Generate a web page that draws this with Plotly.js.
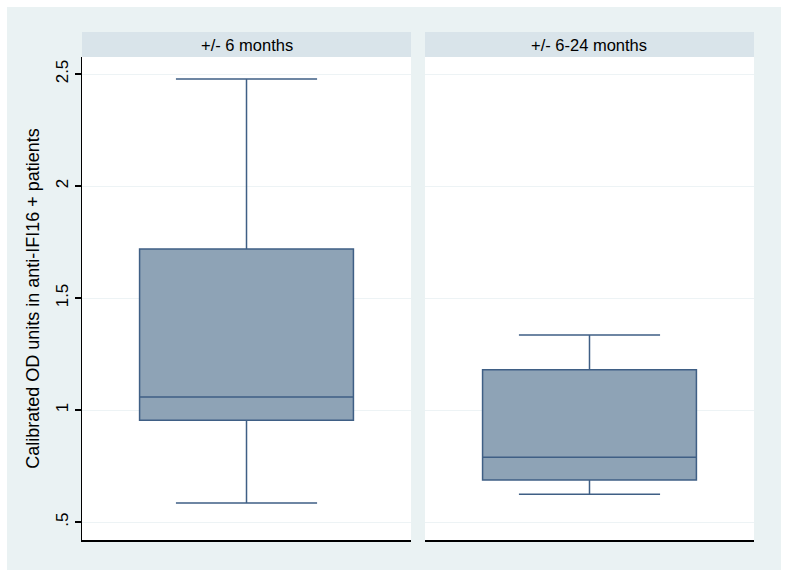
<!DOCTYPE html>
<html>
<head>
<meta charset="utf-8">
<script src="https://cdn.plot.ly/plotly-3.0.1.min.js"></script>
<style>
  html, body { margin: 0; padding: 0; background: #ffffff; }
  #chart { position: absolute; left: 7px; top: 7px; width: 774px; height: 563px; }
</style>
</head>
<body>
<div id="chart"></div>
<script>
// panel labels and box statistics
const panels = ['+/- 6 months', '+/- 6-24 months'];
const lowerFence = [0.585, 0.624];
const q1 = [0.955, 0.688];
const median = [1.058, 0.789];
const q3 = [1.719, 1.180];
const upperFence = [2.478, 1.335];

const yTickVals = [0.5, 1, 1.5, 2, 2.5];
const yTickText = ['.5', '1', '1.5', '2', '2.5'];

const boxFill = '#8ea3b6';
const boxLine = '#3f5f85';
const bg = '#eaf2f3';
const strip = '#d9e4ea';

const traces = panels.map((p, i) => ({
  type: 'box',
  x: [p],
  q1: [q1[i]],
  median: [median[i]],
  q3: [q3[i]],
  lowerfence: [lowerFence[i]],
  upperfence: [upperFence[i]],
  width: 0.65,
  whiskerwidth: 0.66,
  fillcolor: boxFill,
  line: { color: boxLine, width: 1.5 },
  xaxis: i === 0 ? 'x' : 'x2',
  yaxis: 'y',
  hoverinfo: 'skip',
  showlegend: false
}));

const dom1 = [0, 0.4896];
const dom2 = [0.5104, 1];

function xAxis(domain) {
  return {
    domain: domain,
    anchor: 'y',
    range: [-0.5, 0.5],
    showticklabels: false,
    ticks: '',
    showgrid: false,
    zeroline: false,
    showline: true,
    linecolor: '#000000',
    linewidth: 1.5,
    fixedrange: true
  };
}

const stripTop = 1 + 25 / 483;

const layout = {
  width: 774,
  height: 563,
  margin: { l: 75, r: 27, t: 50, b: 30 },
  paper_bgcolor: bg,
  plot_bgcolor: '#ffffff',
  font: { family: 'Liberation Sans, Arial, sans-serif', color: '#000000', size: 15 },
  xaxis: xAxis(dom1),
  xaxis2: xAxis(dom2),
  yaxis: {
    anchor: 'x',
    range: [0.42, 2.576],
    tickvals: yTickVals,
    ticktext: yTickText,
    tickangle: -90,
    ticks: 'outside',
    ticklen: 6,
    tickwidth: 1.2,
    tickcolor: '#000000',
    tickfont: { size: 17 },
    showline: true,
    linecolor: '#000000',
    linewidth: 1.5,
    showgrid: true,
    gridcolor: '#edf3f5',
    gridwidth: 1,
    zeroline: false,
    fixedrange: true,
    title: { text: 'Calibrated OD units in anti-IFI16 + patients', font: { size: 18 }, standoff: 8 }
  },
  shapes: [dom1, dom2].map(d => ({
    type: 'rect', xref: 'paper', yref: 'paper',
    x0: d[0], x1: d[1], y0: 1, y1: stripTop,
    fillcolor: strip, line: { width: 0 }
  })),
  annotations: panels.map((p, i) => {
    const d = i === 0 ? dom1 : dom2;
    return {
      text: p, xref: 'paper', yref: 'paper',
      x: (d[0] + d[1]) / 2, y: (1 + stripTop) / 2,
      xanchor: 'center', yanchor: 'middle',
      showarrow: false, font: { size: 16.5, color: '#000000' }
    };
  })
};

Plotly.newPlot('chart', traces, layout, { displayModeBar: false, staticPlot: true });
</script>
</body>
</html>
